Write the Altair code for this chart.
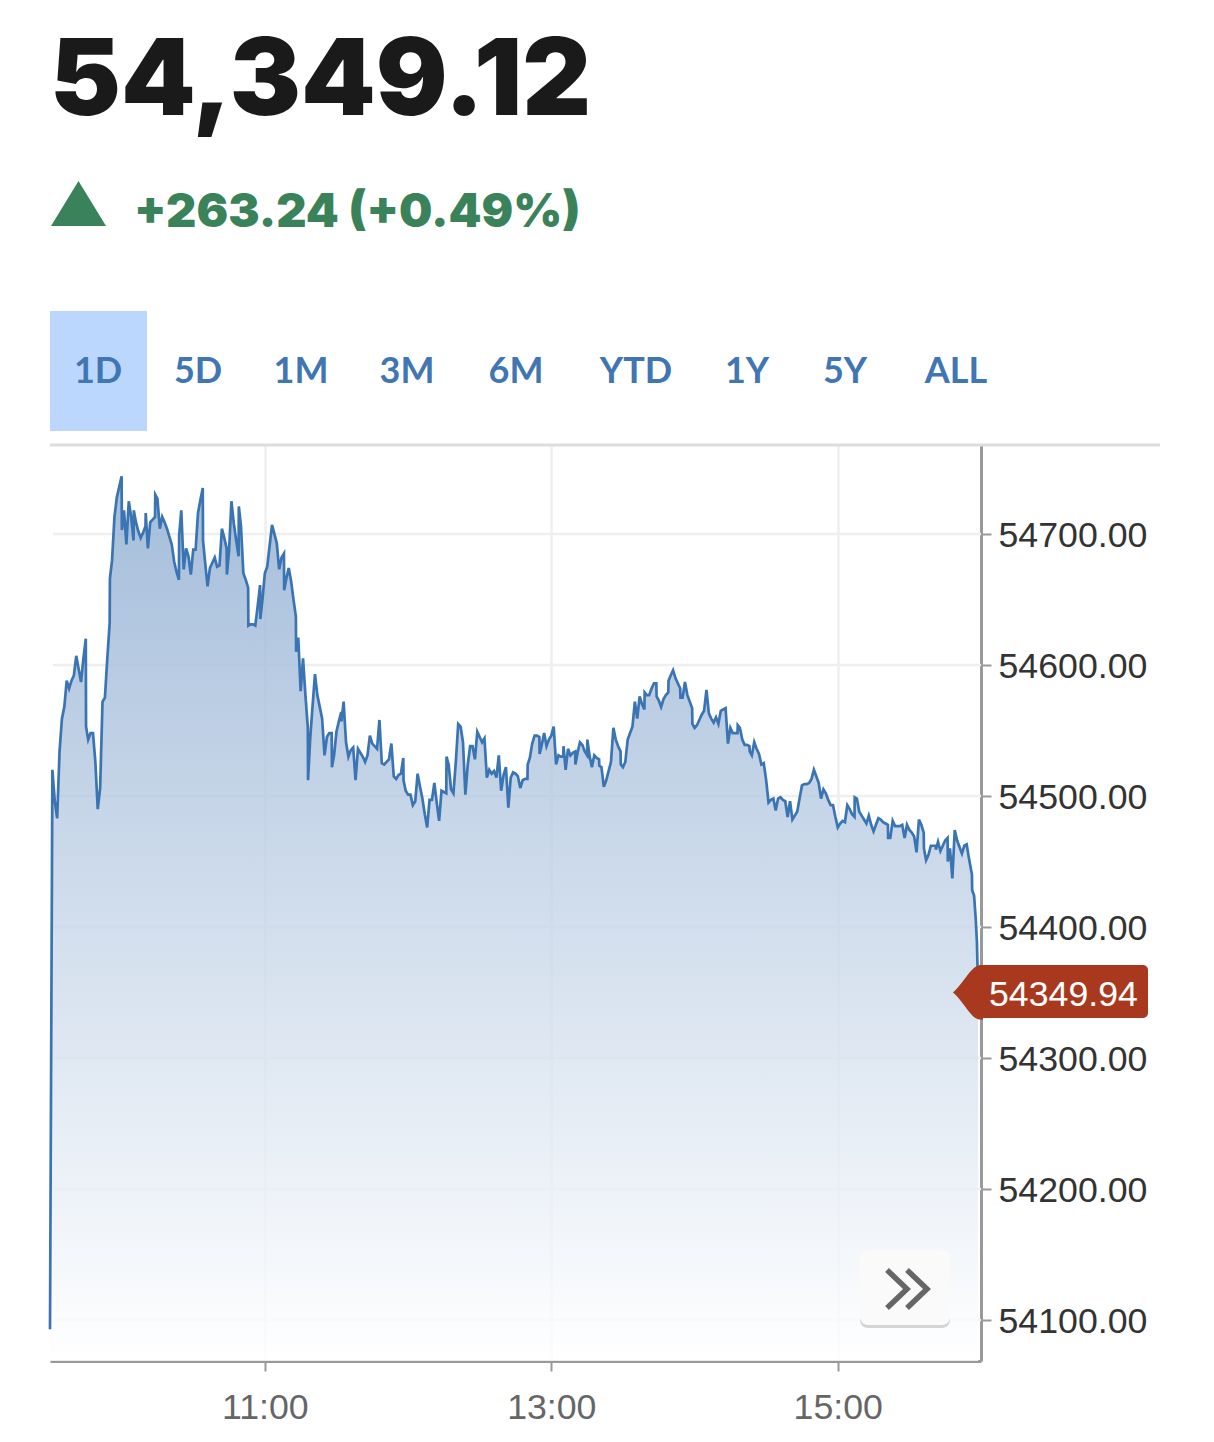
import altair as alt
import pandas as pd

# Minutes after the 09:30 open, and index level at that moment
minutes = [
    0, 1, 2, 3, 4, 5, 6, 7, 8, 9,
    10, 11, 12, 13, 14, 15, 15.1, 16, 17, 18,
    19, 20, 21, 22, 23, 24, 25, 25.1, 26, 27,
    28, 29, 30, 30.1, 31, 32, 33, 34, 35, 35.1,
    36, 37, 38, 39, 40, 40.1, 41, 42, 43, 44,
    44.1, 45, 46, 47, 48, 49, 50, 51, 52, 53,
    54, 54.1, 55, 56, 57, 58, 59, 60, 61, 62,
    63, 64, 64.1, 65, 66, 67, 68, 69, 70, 71,
    72, 73, 74, 74.1, 75, 76, 77, 78, 79, 79.1,
    80, 81, 82, 83, 83.1, 84, 85, 86, 87, 88,
    88.1, 89, 90, 91, 92, 93, 94, 95, 96, 97,
    98, 98.1, 99, 100, 101, 102, 103, 103.1, 104, 105,
    106, 107, 108, 108.1, 109, 110, 111, 112, 113, 114,
    115, 116, 117, 118, 118.1, 119, 120, 121, 122, 122.1,
    123, 124, 125, 126, 127, 128, 129, 130, 131, 132,
    133, 134, 135, 136, 137, 138, 139, 140, 141, 142,
    143, 144, 145, 146, 147, 148, 148.1, 149, 150, 151,
    152, 153, 154, 155, 156, 157, 158, 159, 160, 161,
    162, 163, 164, 165, 166, 166.1, 167, 168, 169, 170,
    171, 172, 173, 174, 175, 176, 177, 178, 179, 180,
    181, 182, 183, 184, 185, 186, 187, 188, 189, 190,
    191, 192, 193, 194, 195, 196, 197, 198, 199, 200,
    200.1, 201, 202, 203, 204, 205, 205.1, 206, 207, 208,
    209, 210, 211, 212, 213, 214, 215, 215.1, 216, 217,
    218, 219, 220, 220.1, 221, 222, 223, 224, 225, 225.1,
    226, 227, 228, 229, 230, 230.1, 231, 232, 233, 234,
    235, 236, 237, 238, 239, 239.1, 240, 241, 242, 243,
    244, 245, 246, 247, 248, 249, 249.1, 250, 251, 252,
    253, 254, 254.1, 255, 256, 257, 258, 259, 259.1, 260,
    261, 262, 263, 264, 264.1, 265, 266, 267, 268, 269,
    269.1, 270, 271, 272, 273, 274, 275, 276, 277, 278,
    279, 280, 281, 282, 283, 284, 285, 286, 287, 288,
    288.1, 289, 290, 291, 292, 293, 293.1, 294, 295, 296,
    297, 298, 299, 300, 301, 302, 303, 304, 305, 306,
    307, 308, 309, 310, 311, 312, 313, 314, 315, 316,
    317, 318, 319, 320, 321, 322, 323, 324, 325, 326,
    327, 328, 329, 330, 331, 332, 333, 334, 335, 336,
    337, 337.1, 338, 339, 340, 341, 342, 343, 344, 345,
    346, 347, 348, 349, 350, 351, 351.1, 352, 353, 354,
    355, 356, 357, 358, 359, 360, 361, 362, 363, 364,
    365, 366, 366.1, 367, 368, 369, 370, 371, 371.1, 372,
    373, 374, 375, 376, 376.1, 377, 378, 379, 380, 381,
    382, 383, 384, 385, 386.2, 386.3, 387.1, 387.8, 388.3, 388.8,
]
levels = [
    54093, 54520, 54496, 54483, 54534, 54559, 54568, 54588, 54582, 54588,
    54592, 54607, 54597, 54587, 54605, 54620, 54553, 54543, 54548, 54548,
    54526, 54490, 54506, 54572, 54575, 54605, 54632, 54666, 54680, 54713,
    54728, 54736, 54744, 54703, 54718, 54692, 54725, 54713, 54695, 54718,
    54709, 54702, 54697, 54701, 54706, 54716, 54689, 54709, 54711, 54713,
    54730, 54727, 54704, 54713, 54709, 54704, 54698, 54692, 54679, 54671,
    54665, 54699, 54718, 54673, 54689, 54683, 54669, 54688, 54688, 54716,
    54726, 54735, 54695, 54678, 54660, 54674, 54678, 54682, 54675, 54676,
    54704, 54697, 54689, 54669, 54687, 54725, 54708, 54695, 54683, 54721,
    54706, 54670, 54665, 54659, 54630, 54631, 54631, 54630, 54645, 54661,
    54635, 54650, 54670, 54675, 54691, 54707, 54700, 54693, 54673, 54682,
    54685, 54657, 54666, 54674, 54664, 54650, 54637, 54610, 54621, 54580,
    54605, 54577, 54552, 54512, 54544, 54569, 54593, 54577, 54568, 54559,
    54531, 54545, 54548, 54548, 54522, 54531, 54549, 54557, 54564, 54557,
    54572, 54541, 54530, 54535, 54537, 54512, 54536, 54533, 54530, 54526,
    54531, 54546, 54540, 54538, 54536, 54558, 54525, 54524, 54526, 54528,
    54540, 54515, 54513, 54516, 54517, 54529, 54512, 54504, 54501, 54501,
    54493, 54496, 54517, 54507, 54498, 54486, 54476, 54497, 54497, 54510,
    54495, 54481, 54504, 54503, 54502, 54530, 54524, 54505, 54502, 54526,
    54555, 54553, 54541, 54501, 54524, 54538, 54538, 54528, 54549, 54545,
    54541, 54544, 54514, 54520, 54517, 54519, 54514, 54531, 54504, 54516,
    54522, 54491, 54514, 54518, 54517, 54515, 54506, 54512, 54513, 54513,
    54524, 54529, 54540, 54546, 54546, 54545, 54532, 54539, 54548, 54538,
    54543, 54546, 54553, 54524, 54531, 54530, 54530, 54538, 54520, 54536,
    54531, 54533, 54534, 54524, 54533, 54541, 54539, 54534, 54531, 54543,
    54531, 54522, 54531, 54529, 54528, 54523, 54522, 54507, 54512, 54519,
    54526, 54552, 54543, 54538, 54534, 54524, 54522, 54526, 54543, 54548,
    54553, 54572, 54559, 54576, 54570, 54566, 54579, 54577, 54577, 54582,
    54586, 54586, 54576, 54573, 54568, 54574, 54577, 54579, 54588, 54592,
    54596, 54590, 54586, 54582, 54575, 54575, 54587, 54577, 54572, 54567,
    54555, 54552, 54554, 54558, 54562, 54565, 54581, 54563, 54559, 54556,
    54560, 54555, 54565, 54566, 54567, 54540, 54552, 54548, 54548, 54548,
    54554, 54552, 54543, 54539, 54539, 54538, 54534, 54531, 54541, 54536,
    54532, 54524, 54525, 54512, 54495, 54497, 54498, 54489, 54498, 54499,
    54497, 54496, 54484, 54496, 54482, 54485, 54488, 54498, 54508, 54509,
    54509, 54510, 54513, 54520, 54515, 54510, 54498, 54505, 54502, 54497,
    54493, 54493, 54484, 54476, 54479, 54481, 54480, 54493, 54490, 54486,
    54484, 54499, 54498, 54488, 54485, 54482, 54479, 54485, 54478, 54473,
    54478, 54483, 54482, 54480, 54479, 54478, 54468, 54468, 54481, 54477,
    54477, 54477, 54478, 54468, 54478, 54474, 54472, 54469, 54457, 54482,
    54478, 54472, 54460, 54451, 54455, 54462, 54462, 54462, 54459, 54465,
    54458, 54462, 54466, 54468, 54450, 54460, 54437, 54474, 54466, 54461,
    54456, 54462, 54463, 54452, 54440, 54428, 54424, 54406, 54388, 54350,
]
assert len(minutes) == len(levels)

y_ticks = [54100, 54200, 54300, 54400, 54500, 54600, 54700]
x_ticks = [90, 210, 330]
tabs = ["1D", "5D", "1M", "3M", "6M", "YTD", "1Y", "5Y", "ALL"]
tab_centres = [98, 198, 301, 407, 516, 636, 747, 845, 956]
last_price = "54,349.12"
change_text = "+263.24 (+0.49%)"
marker_level = 54349.94
axis_floor = 54068.7
axis_ceiling = 54767.9

PLOT_X, PLOT_Y = 50, 445
PLOT_W, PLOT_H = 931, 916
def px(v):
    return v - PLOT_X
def py(v):
    return v - PLOT_Y

series = pd.DataFrame({"m": minutes, "v": levels})
series["floor"] = axis_floor
one = pd.DataFrame({"v": [marker_level]})
yticks_df = pd.DataFrame({"t": y_ticks})

xscale = alt.Scale(domain=[0, 390], nice=False, zero=False)
yscale = alt.Scale(domain=[axis_floor, axis_ceiling], nice=False, zero=False)

SANS = "Liberation Sans"
HEAD = "Inter"
TAB = "Lato"
GREEN = "#3a8259"
BLUE = "#3f76b3"

def text_at(label, x, y, size, color, font=SANS, weight="normal", align="left"):
    return alt.Chart(one).mark_text(
        font=font, fontSize=size, fontWeight=weight, color=color,
        align=align, baseline="alphabetic"
    ).encode(x=alt.value(px(x)), y=alt.value(py(y)), text=alt.value(label))

def rect_at(x0, x1, y0, y1, color, radius=0):
    return alt.Chart(one).mark_rect(color=color, cornerRadius=radius).encode(
        x=alt.value(px(x0)), x2=alt.value(px(x1)),
        y=alt.value(py(y0)), y2=alt.value(py(y1)))

gradient = alt.Gradient(
    gradient="linear", x1=0, x2=0, y1=0, y2=1,
    stops=[alt.GradientStop(color="#8dacd1", offset=0),
           alt.GradientStop(color="#ffffff", offset=1)])

x_axis = alt.Axis(
    values=x_ticks, title=None, grid=True, gridColor="#efefef", gridWidth=2.5,
    domainColor="#999999", domainWidth=3, tickColor="#999999", tickWidth=2,
    tickSize=10, labelFont=SANS, labelFontSize=35.7, labelColor="#666666",
    labelPadding=19, labelFlush=False, labelOverlap=False,
    labelExpr="floor((datum.value + 570) / 60) + ':' + '00'")
y_axis = alt.Axis(
    values=y_ticks, title=None, orient="right", grid=False,
    domainColor="#999999", domainWidth=3, tickColor="#999999", tickWidth=2,
    tickSize=10, labelFont=SANS, labelFontSize=35.7, labelColor="#333333",
    labelPadding=7, labelOffset=1.5, labelOverlap=False, format=".2f")

grid = alt.Chart(yticks_df).mark_rule(color="#efefef", strokeWidth=2.5).encode(
    y=alt.Y("t:Q", scale=yscale, axis=y_axis),
    x=alt.value(3), x2=alt.value(PLOT_W))

area = alt.Chart(series).mark_area(color=gradient, opacity=0.8).encode(
    x=alt.X("m:Q", scale=xscale, axis=x_axis),
    y=alt.Y("v:Q", scale=yscale, axis=y_axis, stack=None),
    y2=alt.Y2("floor:Q"))
line = alt.Chart(series).mark_line(color="#3a74b3", strokeWidth=2.7).encode(
    x=alt.X("m:Q", scale=xscale, axis=x_axis),
    y=alt.Y("v:Q", scale=yscale, axis=y_axis))

top_rule = alt.Chart(one).mark_rule(color="#dddddd", strokeWidth=3).encode(
    x=alt.value(0), x2=alt.value(px(1160)), y=alt.value(0))

badge_tip = alt.Chart(one).mark_point(
    shape="M-1,0 C-0.6,-0.35 -0.4,-0.9 -0.1,-0.9 L0,-0.9 L0,0.9 L-0.1,0.9 C-0.4,0.9 -0.6,0.35 -1,0 Z",
    size=3600, filled=True, color="#a9391e", opacity=1, strokeWidth=0
).encode(x=alt.value(px(983)), y=alt.Y("v:Q", scale=yscale, axis=y_axis))

chevrons = alt.Chart(one).mark_point(
    shape="M-1,-0.95 L0,0 L-1,0.95 M0,-0.95 L1,0 L0,0.95",
    size=1600, filled=False, color="#666666", opacity=1, strokeWidth=5.5
).encode(x=alt.value(px(907)), y=alt.value(py(1289)))

arrow = alt.Chart(one).mark_point(
    shape="M-1,0.82 L0,-0.82 L1,0.82 Z",
    size=3025, filled=True, color=GREEN, opacity=1, strokeWidth=0
).encode(x=alt.value(px(78.5)), y=alt.value(py(203.5)))

layers = [grid, area, line, top_rule,
          rect_at(860, 950, 1252, 1328, "#d4d4d4", 8),
          rect_at(860, 950, 1250, 1325, "#fafafa", 8),
          chevrons,
          rect_at(976, 1148, 965, 1018, "#a9391e", 5),
          badge_tip,
          text_at("54349.94", 989, 1006, 35.7, "#ffffff"),
          text_at(last_price, 50, 115, 106.5, "#1a1a1a", HEAD, 900),
          arrow,
          text_at(change_text, 134, 227, 47, GREEN, HEAD, 900),
          rect_at(50, 147, 311, 431, "#bbd7fd")]
for label, centre in zip(tabs, tab_centres):
    layers.append(text_at(label, centre, 383, 36, BLUE, TAB, 700, "center"))

chart = alt.layer(*layers).properties(
    width=PLOT_W, height=PLOT_H,
    padding={"left": 42, "top": 437, "right": 205, "bottom": 70},
    autosize=alt.AutoSizeParams(type="none"),
).configure_view(stroke=None)

chart.save("out.html", embed_options={"renderer": "svg", "actions": False})
